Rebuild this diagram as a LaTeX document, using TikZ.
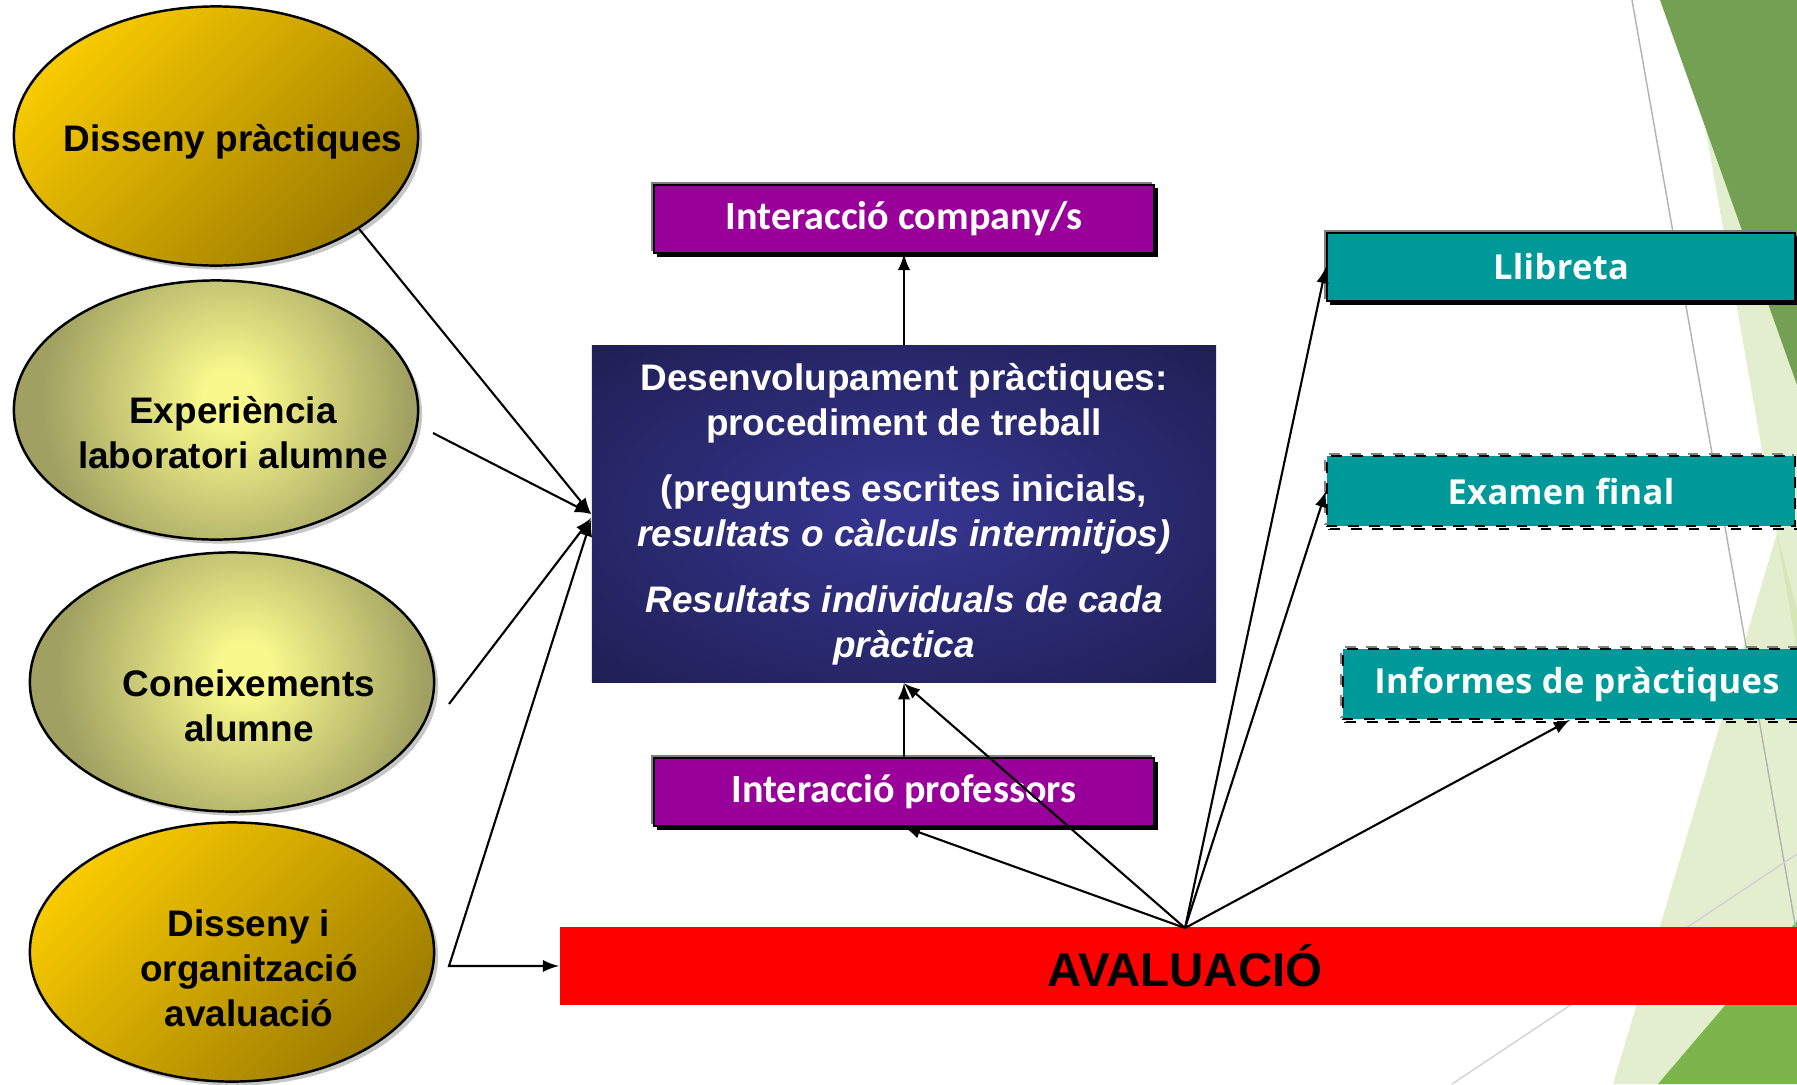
\documentclass[tikz,border=0pt]{standalone}
\usepackage{fontspec}
\setmainfont{Liberation Sans}
\newfontfamily\boxfont{Carlito}
\newfontfamily\tealfont[LetterSpace=1]{Open Sans}
\usetikzlibrary{shapes.geometric,shadows}

\definecolor{gold1}{RGB}{248,202,0}
\definecolor{gold2}{RGB}{158,124,0}
\definecolor{olive1}{RGB}{248,248,140}
\definecolor{olive2}{RGB}{160,160,98}
\definecolor{navy1}{RGB}{54,54,146}
\definecolor{navy2}{RGB}{28,28,76}
\definecolor{purp}{RGB}{153,0,153}
\definecolor{tealbox}{RGB}{0,153,153}
\definecolor{dkgreen}{RGB}{115,160,82}
\definecolor{ltgreen}{RGB}{200,222,160}
\definecolor{brgreen}{RGB}{124,181,76}

\pgfdeclareradialshading{devshade}{\pgfpoint{0bp}{0bp}}{color(0bp)=(navy1); color(40bp)=(navy2); color(100bp)=(navy2)}
\pgfdeclareradialshading{oliveshade}{\pgfpoint{3bp}{0bp}}{color(0bp)=(olive1); color(4bp)=(olive1); color(28bp)=(olive2); color(100bp)=(olive2)}

\begin{document}
\begin{tikzpicture}[x=0.01cm, y=-0.01cm, >=latex,
    gold node/.style={ellipse, draw=black, line width=0.7pt, top color=gold1, bottom color=gold2, shading angle=45,
      minimum width=4.04cm, minimum height=2.59cm, drop shadow={shadow xshift=0.04cm, shadow yshift=-0.04cm, opacity=0.45}},
    olive node/.style={gold node, shade, shading=oliveshade},
    pbox/.style={rectangle, fill=purp, draw=black, line width=0.5pt, minimum width=5cm, minimum height=0.68cm,
      text=white, font=\boxfont\bfseries\fontsize{11.4}{13}\selectfont,
      drop shadow={shadow xshift=-0.025cm, shadow yshift=0.025cm, fill=gray, opacity=1},
      drop shadow={shadow xshift=0.035cm, shadow yshift=-0.035cm, fill=black, opacity=1}},
    tbox/.style={pbox, fill=tealbox, minimum width=4.68cm, font=\tealfont\bfseries\fontsize{9.8}{12}\selectfont},
    tbox dashed/.style={rectangle, fill=tealbox, draw=black, dashed, line width=0.5pt, minimum width=4.68cm, minimum height=0.7cm,
      text=white, font=\tealfont\bfseries\fontsize{9.8}{12}\selectfont,
      general shadow={shadow xshift=-0.02cm, shadow yshift=0.02cm, draw=gray, dashed, line width=0.6pt, fill=none, opacity=1},
      general shadow={shadow xshift=0.03cm, shadow yshift=-0.03cm, draw=black, dashed, line width=0.8pt, fill=none, opacity=1}}]
    \tikzstyle{ell text}=[font=\fontsize{10.5}{12.8}\selectfont\bfseries, align=center]

    \useasboundingbox (0,0) rectangle (1797,1084);
    \clip (0,0) rectangle (1797,1084);

    % background facets
    \fill[ltgreen, fill opacity=0.5] (1683,0) -- (1797,0) -- (1797,650) -- cycle;
    \fill[ltgreen, fill opacity=0.5] (1613,1084) -- (1777,533) -- (1797,610) -- (1797,1084) -- cycle;
    \fill[dkgreen] (1660,0) -- (1797,0) -- (1797,385) -- cycle;
    \fill[brgreen] (1658,1084) -- (1797,921) -- (1797,1084) -- cycle;
    \draw[gray!60, line width=0.4pt] (1632,0) -- (1797,935);
    \draw[gray!35, line width=0.4pt] (1452,1084) -- (1797,854);

    % left ellipses
    \node[gold node] (1) at (216,136) {};
    \node[olive node] (2) at (216,410) {};
    \node[olive node] (3) at (232,682) {};
    \node[gold node] (4) at (232,952) {};
    \node[ell text] (1t) at (233,142) {Disseny pràctiques};
    \node[ell text] (2t) at (233,433) {Experiència\\laboratori alumne};
    \node[ell text] (3t) at (249,706) {Coneixements\\alumne};
    \node[ell text] (4t) at (249,968) {Disseny i\\organització\\avaluació};

    % middle column
    \node[pbox] (5) at (904,219) {Interacció company/s};
    \node[shade, shading=devshade, minimum width=6.24cm, minimum height=3.37cm, text=white, align=center,
      font=\fontsize{10.5}{12.8}\selectfont\bfseries] (6) at (904,514)
      {Desenvolupament pràctiques:\\procediment de treball\\[6pt]
       (preguntes escrites inicials,\\\textit{resultats o càlculs intermitjos)}\\[6pt]
       \textit{Resultats individuals de cada}\\\textit{pràctica}};
    \node[pbox] (7) at (904,792) {Interacció professors};
    \node[fill=red, minimum width=12.5cm, minimum height=0.77cm, font=\fontsize{13.5}{15}\selectfont\bfseries] (8) at (1185,966) {AVALUACIÓ};

    % right column
    \node[tbox] (9) at (1561,267) {Llibreta};
    \node[tbox dashed] (10) at (1561,491) {Examen final};
    \node[tbox dashed] (11) at (1577,684) {Informes de pràctiques};

    \coordinate (s2) at (433,433);
    \coordinate (s3) at (449,704);
    \coordinate (s4) at (449,966);
    \coordinate (hub) at (1185,928);

    \path[->, line width=0.6pt]
      (1.-33) edge (6.west)
      (s2) edge (6.west)
      (s3) edge ([yshift=-0.04cm]6.west)
      (7.north) edge (6.south)
      (6.north) edge (5.south);
    \draw[<->, line width=0.6pt] ([yshift=-0.06cm]6.west) -- (s4) -- (8.west);
    \path[->, line width=0.6pt]
      (hub) edge (7.south)
            edge (6.south)
            edge (9.west)
            edge (10.west)
            edge ([xshift=-0.07cm]11.south);
\end{tikzpicture}
\end{document}
